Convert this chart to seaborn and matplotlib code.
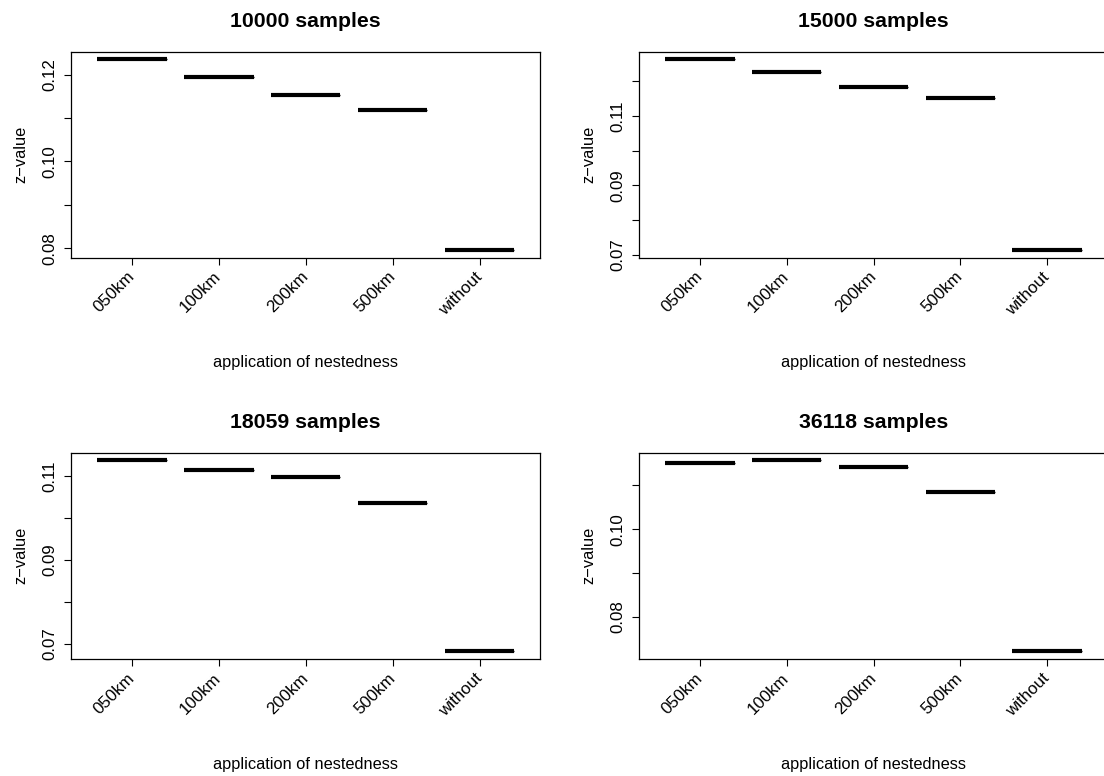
import numpy as np
import pandas as pd
import matplotlib
matplotlib.use("Agg")
import matplotlib.pyplot as plt
import seaborn as sns

categories = ["050km", "100km", "200km", "500km", "without"]
titles = ["10000 samples", "15000 samples", "18059 samples", "36118 samples"]
z_10000 = [0.1235, 0.1194, 0.1153, 0.1119, 0.0796]
z_15000 = [0.1263, 0.1227, 0.1183, 0.1153, 0.0714]
z_18059 = [0.1138, 0.1116, 0.1099, 0.1037, 0.0682]
z_36118 = [0.1151, 0.1157, 0.1141, 0.1084, 0.0722]
series = [z_10000, z_15000, z_18059, z_36118]
ytick_vals = [
    [0.08, 0.09, 0.10, 0.11, 0.12],
    [0.07, 0.08, 0.09, 0.10, 0.11, 0.12],
    [0.07, 0.08, 0.09, 0.10, 0.11],
    [0.08, 0.09, 0.10, 0.11],
]
ytick_labels = [
    ["0.08", "", "0.10", "", "0.12"],
    ["0.07", "", "0.09", "", "0.11", ""],
    ["0.07", "", "0.09", "", "0.11"],
    ["0.08", "", "0.10", ""],
]

plt.rcParams['font.family'] = ['Liberation Sans', 'DejaVu Sans']

W, H = 1104, 776
fig = plt.figure(figsize=(W / 100, H / 100), dpi=100)

# axes boxes in pixels: left, right, top, bottom
boxes = [
    (71.0, 540.4, 51.7, 257.7),
    (639.0, 1108.0, 51.7, 257.7),
    (71.0, 540.4, 452.7, 659.0),
    (639.0, 1108.0, 452.7, 659.0),
]

fs = 11.8
tfs = 12.2
for i, (l, r, t, b) in enumerate(boxes):
    ax = fig.add_axes([l / W, 1 - b / H, (r - l) / W, (b - t) / H])
    vals = series[i]
    df = pd.DataFrame({"cat": categories, "z": vals})
    sns.boxplot(data=df, x="cat", y="z", order=categories, ax=ax,
                width=0.8, color="white", linecolor="black", linewidth=1,
                medianprops=dict(linewidth=3.0, solid_capstyle="butt", color="black"),
                showcaps=False, showfliers=False)
    lo, hi = min(vals), max(vals)
    rng = hi - lo
    ax.set_ylim(lo - 0.04 * rng, hi + 0.04 * rng)
    ax.set_xlim(-0.7, 4.7)
    ax.set_yticks(ytick_vals[i])
    ax.set_yticklabels(ytick_labels[i], rotation=90, va="center", fontsize=tfs)
    ax.set_xticks(range(len(categories)))
    ax.set_xticklabels(categories, rotation=45, ha="right", va="center",
                       rotation_mode="anchor", fontsize=tfs)
    ax.tick_params(axis="x", length=5, width=0.8, pad=7)
    ax.tick_params(axis="y", length=5, width=0.8, pad=5)
    for s in ax.spines.values():
        s.set_color("black")
        s.set_linewidth(0.9)
    ax.set_xlabel("application of nestedness", fontsize=fs)
    ax.set_ylabel("z\u2212value", fontsize=fs)
    hpx = b - t
    ax.xaxis.set_label_coords(0.5, -105 / hpx)
    ax.xaxis.label.set_va("center")
    ax.yaxis.set_label_coords(-50 / (r - l), 0.5)
    ax.yaxis.label.set_va("center")
    ax.set_title(titles[i], fontsize=15.3, fontweight="bold", pad=18)
    ax.set_facecolor("white")

fig.savefig("out.png", dpi=100, facecolor="white")
